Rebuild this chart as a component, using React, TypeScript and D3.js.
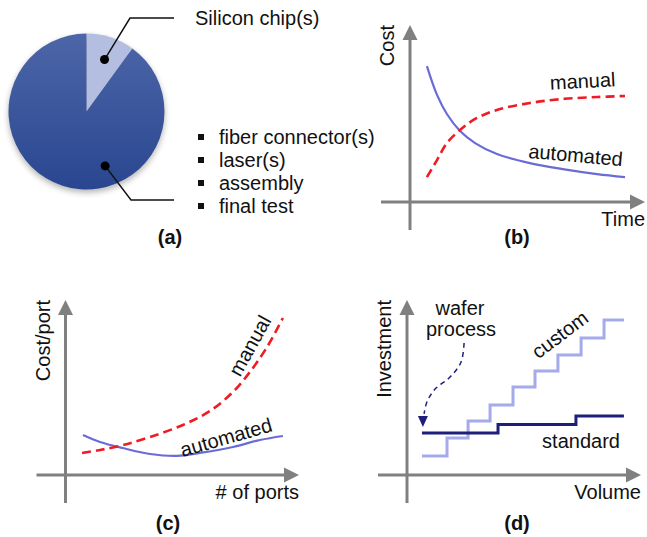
import React from 'react';
import * as d3 from 'd3';

// (a) cost breakdown
const pieLabels = ['Silicon chip(s)', 'packaging'];
const pieValues = [10, 90];
const bulletItems = ['fiber connector(s)', 'laser(s)', 'assembly', 'final test'];

// (b) cost vs time
const timeX = [7.2, 11.5, 15.7, 21.3, 27.7, 37, 51, 65, 79.6, 91.5];
const timeAutomated = [76.8, 60.5, 49.7, 40.1, 33.3, 27.1, 22, 18.6, 15.8, 14.1];
const timeManual = [14.1, 23.7, 33.3, 40.7, 46.9, 52, 55.9, 58.2, 59.3, 59.9];

// (c) cost per port vs number of ports
const portsManualX = [7.1, 14.8, 24.6, 36.2, 50.3, 61.9, 71.7, 79, 86.3, 93.1];
const portsManual = [12.6, 14.3, 17.1, 21.7, 28.6, 36.6, 47.4, 58.9, 73.1, 89.7];
const portsAutoX = [7.5, 14.8, 24.6, 36.2, 47.8, 57.6, 71.7, 83.3, 93.1];
const portsAutomated = [22.9, 18.9, 15.4, 12, 10.9, 12.6, 16, 20, 22.3];

// (d) investment vs volume (step functions)
const customX = [6.4, 17.1, 26.1, 35.5, 45.3, 54.7, 64.5, 74.4, 84.2, 92.7];
const customY = [10.9, 21.1, 30.9, 40, 50.3, 59.4, 68.6, 78.3, 88.6, 88.6];
const standardX = [6.4, 38.9, 72.2, 92.7];
const standardY = [24, 28.9, 33.7, 33.7];
const waferArrowX = [24.4, 23.1, 18.4, 12, 8.5, 7.3];
const waferArrowY = [75.4, 64.6, 56, 49.1, 41.7, 34.9];
const waferTip = [6.8, 27.4];

const FONT = "'Liberation Sans', Arial, sans-serif";
const AXIS = '#808080';
const RED = '#ee1c25';
const BLUE = '#6b6bd8';
const LIGHT = '#a4aaea';
const NAVY = '#1d1f7a';

type P = [number, number];

function Axes({ x, y, xLabel, yLabel }: { x: any; y: any; xLabel: string; yLabel: string }) {
  const [x0, x1] = x.range();
  const [y0, y1] = y.range();
  return (
    <g>
      <line x1={x0 - 29} x2={x1 - 12} y1={y0} y2={y0} stroke={AXIS} strokeWidth={3} />
      <polygon points={`${x1},${y0} ${x1 - 15},${y0 - 7.5} ${x1 - 15},${y0 + 7.5}`} fill={AXIS} />
      <line x1={x0} x2={x0} y1={y0 + 28} y2={y1 + 12} stroke={AXIS} strokeWidth={3} />
      <polygon points={`${x0},${y1} ${x0 - 7.5},${y1 + 15} ${x0 + 7.5},${y1 + 15}`} fill={AXIS} />
      <text x={x1} y={y0 + 24} textAnchor="end" fontSize={20}>{xLabel}</text>
      <text transform={`translate(${x0 - 16},${y1}) rotate(-90)`} textAnchor="end" fontSize={20}>{yLabel}</text>
    </g>
  );
}

function curve(xs: number[], ys: number[], x: any, y: any, c: any = d3.curveMonotoneX) {
  const pts: P[] = xs.map((v, i) => [v, ys[i]]);
  return d3.line<P>().x((d) => x(d[0])).y((d) => y(d[1])).curve(c)(pts) || '';
}

function PanelA() {
  const cx = 86.5, cy = 111.5, r = 78;
  const arcs = d3.pie<number>().sort(null)(pieValues);
  const arc = d3.arc<any>().innerRadius(0).outerRadius(r);
  const polar = (a: number, rr: number): P => [cx + rr * Math.sin(a), cy - rr * Math.cos(a)];
  const chipMid = (arcs[0].startAngle + arcs[0].endAngle) / 2;
  const dot1 = polar(chipMid + 0.02, 55);
  const dot2 = polar(Math.PI * 0.895, 57.5);
  return (
    <g>
      <defs>
        <linearGradient id="pieGrad" x1="0" y1="0" x2="0" y2="1">
          <stop offset="0" stopColor="#4d66a8" />
          <stop offset="1" stopColor="#294690" />
        </linearGradient>
        <filter id="shadow" x="-30%" y="-30%" width="160%" height="160%">
          <feGaussianBlur stdDeviation="3" />
        </filter>
      </defs>
      <circle cx={cx} cy={cy + 3} r={r} fill="#000" opacity={0.3} filter="url(#shadow)" />
      <g transform={`translate(${cx},${cy})`}>
        {arcs.map((a, i) => (
          <path key={i} d={arc(a) || ''} fill={i === 0 ? '#b3bee1' : 'url(#pieGrad)'} />
        ))}
      </g>
      <polyline points={`${dot1[0]},${dot1[1]} 130,18 174,18`} fill="none" stroke="#111" strokeWidth={1.5} />
      <polyline points={`${dot2[0]},${dot2[1]} 131,200 174,200`} fill="none" stroke="#111" strokeWidth={1.5} />
      <circle cx={dot1[0]} cy={dot1[1]} r={4.5} fill="#000" />
      <circle cx={dot2[0]} cy={dot2[1]} r={4.5} fill="#000" />
      <text x={195} y={25} fontSize={20}>{pieLabels[0]}</text>
      {bulletItems.map((t, i) => (
        <g key={t}>
          <rect x={198} y={134 + i * 23} width={6} height={6} fill="#111" />
          <text x={219} y={144 + i * 23} fontSize={20}>{t}</text>
        </g>
      ))}
      <text x={170} y={244} textAnchor="middle" fontSize={20} fontWeight="bold">(a)</text>
    </g>
  );
}

function PanelB() {
  const x = d3.scaleLinear().domain([0, 100]).range([410, 645]);
  const y = d3.scaleLinear().domain([0, 100]).range([202, 25]);
  return (
    <g>
      <Axes x={x} y={y} xLabel="Time" yLabel="Cost" />
      <path d={curve(timeX, timeAutomated, x, y, d3.curveCatmullRom)} fill="none" stroke={BLUE} strokeWidth={2.2} />
      <path d={curve(timeX, timeManual, x, y, d3.curveCatmullRom)} fill="none" stroke={RED} strokeWidth={2.6} strokeDasharray="9,5" />
      <text transform="translate(583,88) rotate(-3)" textAnchor="middle" fontSize={20}>manual</text>
      <text transform="translate(575,162) rotate(5)" textAnchor="middle" fontSize={20}>automated</text>
      <text x={517} y={244} textAnchor="middle" fontSize={20} fontWeight="bold">(b)</text>
    </g>
  );
}

function PanelC() {
  const x = d3.scaleLinear().domain([0, 100]).range([65.5, 299]);
  const y = d3.scaleLinear().domain([0, 100]).range([475, 300]);
  return (
    <g>
      <Axes x={x} y={y} xLabel="# of ports" yLabel="Cost/port" />
      <path d={curve(portsAutoX, portsAutomated, x, y, d3.curveCatmullRom)} fill="none" stroke={BLUE} strokeWidth={2.2} />
      <path d={curve(portsManualX, portsManual, x, y, d3.curveCatmullRom)} fill="none" stroke={RED} strokeWidth={2.6} strokeDasharray="9,5" />
      <text transform="translate(256,349) rotate(-61)" textAnchor="middle" fontSize={20}>manual</text>
      <text transform="translate(228,444) rotate(-16)" textAnchor="middle" fontSize={20}>automated</text>
      <text x={168} y={530} textAnchor="middle" fontSize={20} fontWeight="bold">(c)</text>
    </g>
  );
}

function PanelD() {
  const x = d3.scaleLinear().domain([0, 100]).range([407, 641]);
  const y = d3.scaleLinear().domain([0, 100]).range([475, 300]);
  const tx = x(waferTip[0]), ty = y(waferTip[1]);
  return (
    <g>
      <Axes x={x} y={y} xLabel="Volume" yLabel="Investment" />
      <path d={curve(customX, customY, x, y, d3.curveStepAfter)} fill="none" stroke={LIGHT} strokeWidth={3} />
      <path d={curve(standardX, standardY, x, y, d3.curveStepAfter)} fill="none" stroke={NAVY} strokeWidth={3} />
      <path d={curve(waferArrowX, waferArrowY, x, y, d3.curveCatmullRom)} fill="none" stroke={NAVY} strokeWidth={1.5} strokeDasharray="5,4" />
      <polygon points={`${tx},${ty} ${tx - 5},${ty - 11} ${tx + 5},${ty - 11}`} fill={NAVY} />
      <text x={460} y={315} textAnchor="middle" fontSize={20}>wafer</text>
      <text x={461} y={336} textAnchor="middle" fontSize={20}>process</text>
      <text transform="translate(564,340) rotate(-37)" textAnchor="middle" fontSize={20}>custom</text>
      <text x={581} y={448} textAnchor="middle" fontSize={20}>standard</text>
      <text x={517} y={530} textAnchor="middle" fontSize={20} fontWeight="bold">(d)</text>
    </g>
  );
}

export default function App() {
  return (
    <svg width={647} height={537} style={{ position: 'absolute', left: 0, top: 0, background: '#fff' }} fontFamily={FONT} fill="#111">
      <PanelA />
      <PanelB />
      <PanelC />
      <PanelD />
    </svg>
  );
}
